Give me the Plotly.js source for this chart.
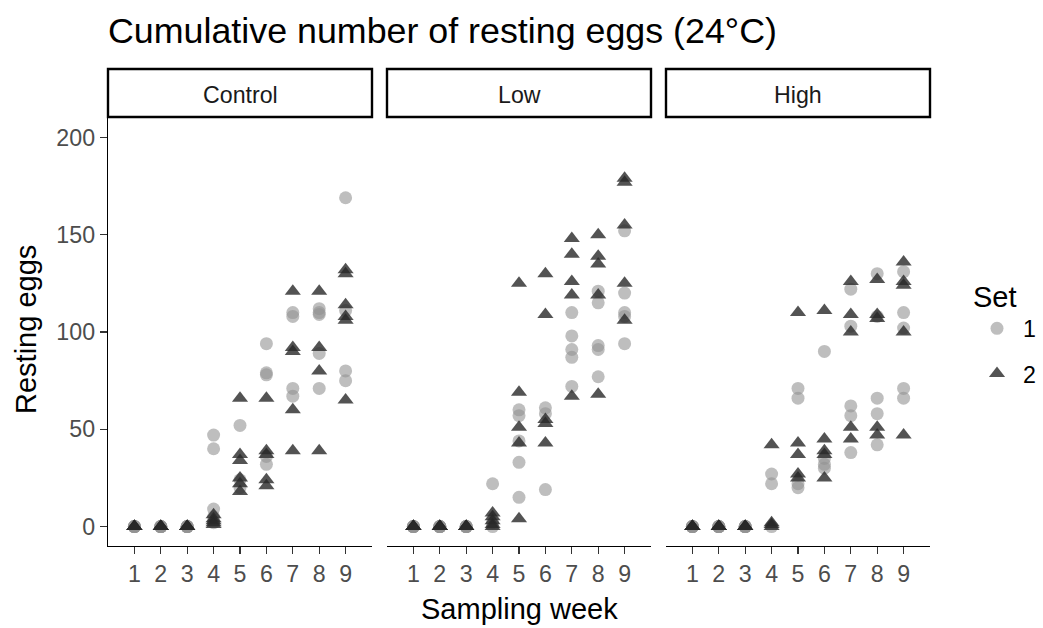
<!DOCTYPE html>
<html>
<head>
<meta charset="utf-8">
<script src="https://cdn.plot.ly/plotly-3.0.1.min.js"></script>
<style>
  html, body { margin: 0; padding: 0; background: #ffffff; }
  #chart { width: 1043px; height: 628px; }
</style>
</head>
<body>
<div id="chart"></div>
<script>
// ---- Data, one inner list per sampling week 1..9 ----
const weeks = [1, 2, 3, 4, 5, 6, 7, 8, 9];
const panels = ["Control", "Low", "High"];
const setNames = ["1", "2"];
const yTicks = [0, 50, 100, 150, 200];

const control_set1 = [
  [0, 0, 0, 0, 0], [0, 0, 0, 0, 0], [0, 0, 0, 0, 0],
  [47, 40, 9, 5, 2], [52, 24, 20], [94, 79, 78, 36, 32],
  [110, 108, 71, 67], [112, 110, 109, 89, 71], [169, 111, 80, 75]
];
const control_set2 = [
  [0, 0, 0, 0, 0], [0, 0, 0, 0, 0], [0, 0, 0, 0, 0],
  [6, 4, 3, 2, 1], [66, 37, 34, 25, 22, 18], [66, 39, 37, 24, 21],
  [121, 92, 90, 60, 39], [121, 92, 80, 39], [132, 130, 114, 108, 106, 65]
];
const low_set1 = [
  [0, 0, 0, 0, 0], [0, 0, 0, 0, 0], [0, 0, 0, 0, 0],
  [22, 2, 0], [60, 57, 44, 33, 15], [61, 58, 19],
  [110, 98, 91, 87, 72], [121, 115, 93, 91, 77], [152, 120, 110, 108, 94]
];
const low_set2 = [
  [0, 0, 0, 0, 0], [0, 0, 0, 0, 0], [0, 0, 0, 0, 0],
  [7, 5, 3, 1, 0], [125, 69, 51, 43, 4], [130, 109, 55, 53, 43],
  [148, 140, 126, 119, 67], [150, 139, 135, 119, 68], [179, 177, 155, 125, 106]
];
const high_set1 = [
  [0, 0, 0, 0, 0], [0, 0, 0, 0, 0], [0, 0, 0, 0, 0],
  [27, 22, 0], [71, 66, 22, 20], [90, 35, 32, 30],
  [122, 103, 62, 57, 38], [130, 108, 66, 58, 42], [131, 110, 102, 71, 66]
];
const high_set2 = [
  [0, 0, 0, 0, 0], [0, 0, 0, 0, 0], [0, 0, 0, 0, 0],
  [42, 2, 1, 0], [110, 43, 37, 27, 25], [111, 45, 39, 37, 25],
  [126, 109, 100, 51, 45], [127, 109, 107, 51, 47], [136, 126, 124, 100, 47]
];
const panelData = [[control_set1, control_set2], [low_set1, low_set2], [high_set1, high_set2]];

// ---- Styling ----
const FONT = "Liberation Sans, Arial, sans-serif";
const base = 29;
const setStyle = [
  { symbol: "circle", color: "rgba(147,147,147,0.6)", size: 13 },
  { symbol: "triangle-up", color: "rgba(40,40,40,0.8)", size: 14 }
];

function flatten(byWeek) {
  const x = [], y = [];
  byWeek.forEach((vals, i) => vals.forEach(v => { x.push(weeks[i]); y.push(v); }));
  return { x, y };
}

const traces = [];
panelData.forEach((sets, p) => {
  sets.forEach((byWeek, s) => {
    const d = flatten(byWeek);
    traces.push({
      type: "scatter", mode: "markers",
      x: d.x, y: d.y,
      xaxis: p === 0 ? "x" : "x" + (p + 1),
      yaxis: p === 0 ? "y" : "y" + (p + 1),
      name: setNames[s],
      legendgroup: "set" + setNames[s],
      showlegend: p === 0,
      marker: { symbol: setStyle[s].symbol, color: setStyle[s].color, size: setStyle[s].size, line: { width: 0 } },
      hoverinfo: "x+y"
    });
  });
});

// geometry
const W = 1043, H = 628;
const mL = 108, mR = 113, mT = 118, mB = 82;
const plotW = W - mL - mR, plotH = H - mT - mB;
const gap = 15;
const pw = (plotW - 2 * gap) / 3;
const domains = [0, 1, 2].map(i => [(i * (pw + gap)) / plotW, (i * (pw + gap) + pw) / plotW]);
const py = px => (H - mB - px) / plotH; // pixel y -> paper y

function xAxis(i) {
  return {
    domain: domains[i], anchor: i === 0 ? "y" : "y" + (i + 1),
    range: [0, 10], tickmode: "array", tickvals: weeks, ticktext: weeks.map(String),
    showline: true, linecolor: "#000000", linewidth: 1.3, mirror: false,
    ticks: "outside", ticklen: 7, tickwidth: 1.3, tickcolor: "#333333",
    tickfont: { family: FONT, size: base * 0.8, color: "#4d4d4d" },
    showgrid: false, zeroline: false, fixedrange: true, automargin: false
  };
}
function yAxis(i) {
  const first = i === 0;
  return {
    domain: [0, 1], anchor: i === 0 ? "x" : "x" + (i + 1),
    range: [-10, 210], tickmode: "array", tickvals: yTicks, ticktext: yTicks.map(String),
    showline: first, linecolor: "#000000", linewidth: 1.3,
    ticks: first ? "outside" : "", ticklen: 7, tickwidth: 1.3, tickcolor: "#333333",
    showticklabels: first,
    tickfont: { family: FONT, size: base * 0.8, color: "#4d4d4d" },
    showgrid: false, zeroline: false, fixedrange: true, automargin: false
  };
}

const shapes = [], annotations = [];
panels.forEach((name, i) => {
  shapes.push({
    type: "rect", xref: "paper", yref: "paper",
    x0: domains[i][0], x1: domains[i][1], y0: py(117), y1: py(69),
    line: { color: "#000000", width: 2.4 }, fillcolor: "#ffffff", layer: "above"
  });
  annotations.push({
    xref: "paper", yref: "paper", x: (domains[i][0] + domains[i][1]) / 2, y: py(95),
    xanchor: "center", yanchor: "middle", showarrow: false, text: name,
    font: { family: FONT, size: base * 0.8, color: "#1a1a1a" }
  });
});
annotations.push({
  xref: "paper", yref: "paper", x: 0.5, y: py(609), xanchor: "center", yanchor: "middle",
  showarrow: false, text: "Sampling week", font: { family: FONT, size: base, color: "#000000" }
});
annotations.push({
  xref: "paper", yref: "paper", x: (26 - mL) / plotW, y: py(330), xanchor: "center", yanchor: "middle",
  showarrow: false, text: "Resting eggs", textangle: -90, font: { family: FONT, size: base, color: "#000000" }
});

const layout = {
  width: W, height: H,
  margin: { l: mL, r: mR, t: mT, b: mB, pad: 0, autoexpand: false },
  paper_bgcolor: "#ffffff", plot_bgcolor: "#ffffff",
  font: { family: FONT, color: "#000000" },
  title: {
    text: "Cumulative number of resting eggs (24°C)",
    xref: "container", yref: "container", x: 108 / W, xanchor: "left",
    y: 1 - 30 / H, yanchor: "middle",
    font: { family: FONT, size: 35.8, color: "#000000" }
  },
  xaxis: xAxis(0), xaxis2: xAxis(1), xaxis3: xAxis(2),
  yaxis: yAxis(0), yaxis2: yAxis(1), yaxis3: yAxis(2),
  shapes, annotations,
  showlegend: true,
  legend: {
    x: (971 - mL) / plotW, xanchor: "left", y: py(269), yanchor: "top",
    title: { text: "Set", font: { family: FONT, size: base, color: "#000000" } },
    font: { family: FONT, size: base * 0.8, color: "#000000" },
    bgcolor: "rgba(0,0,0,0)", borderwidth: 0,
    tracegroupgap: 12, traceorder: "grouped", itemsizing: "trace", itemwidth: 42
  }
};

Plotly.newPlot("chart", traces, layout, { displayModeBar: false, staticPlot: true });
</script>
</body>
</html>
